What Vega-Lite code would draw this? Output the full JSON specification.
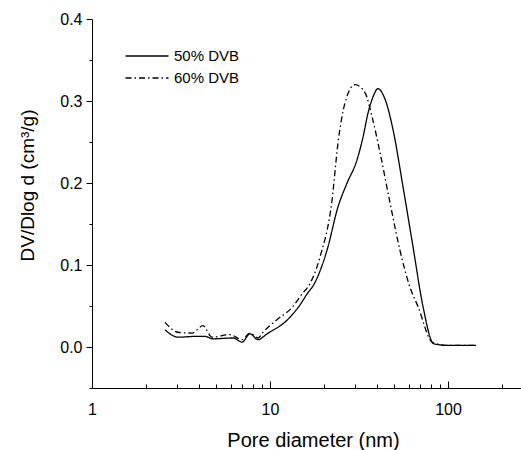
{
  "$schema": "https://vega.github.io/schema/vega-lite/v6.json",
  "width": 429,
  "height": 369,
  "autosize": "none",
  "padding": {"left": 92, "top": 19, "right": 0, "bottom": 62},
  "background": "white",
  "config": {
    "view": {"stroke": null},
    "font": "Liberation Sans",
    "axis": {"domainColor": "black", "tickColor": "black", "labelColor": "black", "titleColor": "black", "grid": false, "titleFontWeight": "normal", "domainWidth": 1, "tickWidth": 1}
  },
  "data": {
    "values": [
      {"d": 2.57, "v": 0.021, "s": "50% DVB"},
      {"d": 3.04, "v": 0.012, "s": "50% DVB"},
      {"d": 3.89, "v": 0.013, "s": "50% DVB"},
      {"d": 4.3, "v": 0.013, "s": "50% DVB"},
      {"d": 4.78, "v": 0.010, "s": "50% DVB"},
      {"d": 6.2, "v": 0.011, "s": "50% DVB"},
      {"d": 6.96, "v": 0.006, "s": "50% DVB"},
      {"d": 7.72, "v": 0.016, "s": "50% DVB"},
      {"d": 8.56, "v": 0.009, "s": "50% DVB"},
      {"d": 9.62, "v": 0.016, "s": "50% DVB"},
      {"d": 12.5, "v": 0.033, "s": "50% DVB"},
      {"d": 14.7, "v": 0.051, "s": "50% DVB"},
      {"d": 16.3, "v": 0.066, "s": "50% DVB"},
      {"d": 17.5, "v": 0.075, "s": "50% DVB"},
      {"d": 20.9, "v": 0.118, "s": "50% DVB"},
      {"d": 24.1, "v": 0.171, "s": "50% DVB"},
      {"d": 27.1, "v": 0.200, "s": "50% DVB"},
      {"d": 30.8, "v": 0.228, "s": "50% DVB"},
      {"d": 33.3, "v": 0.256, "s": "50% DVB"},
      {"d": 35.5, "v": 0.285, "s": "50% DVB"},
      {"d": 37.9, "v": 0.305, "s": "50% DVB"},
      {"d": 40.4, "v": 0.315, "s": "50% DVB"},
      {"d": 44.3, "v": 0.302, "s": "50% DVB"},
      {"d": 49.1, "v": 0.265, "s": "50% DVB"},
      {"d": 55.9, "v": 0.195, "s": "50% DVB"},
      {"d": 63.6, "v": 0.122, "s": "50% DVB"},
      {"d": 72.4, "v": 0.049, "s": "50% DVB"},
      {"d": 83.0, "v": 0.004, "s": "50% DVB"},
      {"d": 100, "v": 0.002, "s": "50% DVB"},
      {"d": 144, "v": 0.002, "s": "50% DVB"},
      {"d": 2.57, "v": 0.030, "s": "60% DVB"},
      {"d": 3.04, "v": 0.018, "s": "60% DVB"},
      {"d": 3.65, "v": 0.017, "s": "60% DVB"},
      {"d": 4.2, "v": 0.026, "s": "60% DVB"},
      {"d": 4.72, "v": 0.012, "s": "60% DVB"},
      {"d": 5.96, "v": 0.015, "s": "60% DVB"},
      {"d": 6.96, "v": 0.009, "s": "60% DVB"},
      {"d": 7.72, "v": 0.017, "s": "60% DVB"},
      {"d": 8.56, "v": 0.011, "s": "60% DVB"},
      {"d": 9.13, "v": 0.018, "s": "60% DVB"},
      {"d": 10.9, "v": 0.033, "s": "60% DVB"},
      {"d": 13.4, "v": 0.049, "s": "60% DVB"},
      {"d": 15.3, "v": 0.066, "s": "60% DVB"},
      {"d": 16.3, "v": 0.073, "s": "60% DVB"},
      {"d": 19.1, "v": 0.110, "s": "60% DVB"},
      {"d": 22.3, "v": 0.179, "s": "60% DVB"},
      {"d": 24.1, "v": 0.249, "s": "60% DVB"},
      {"d": 26.4, "v": 0.298, "s": "60% DVB"},
      {"d": 30.0, "v": 0.320, "s": "60% DVB"},
      {"d": 34.2, "v": 0.310, "s": "60% DVB"},
      {"d": 37.5, "v": 0.280, "s": "60% DVB"},
      {"d": 41.5, "v": 0.237, "s": "60% DVB"},
      {"d": 47.2, "v": 0.176, "s": "60% DVB"},
      {"d": 53.7, "v": 0.118, "s": "60% DVB"},
      {"d": 61.1, "v": 0.073, "s": "60% DVB"},
      {"d": 67.9, "v": 0.049, "s": "60% DVB"},
      {"d": 81.5, "v": 0.006, "s": "60% DVB"},
      {"d": 100, "v": 0.002, "s": "60% DVB"},
      {"d": 144, "v": 0.002, "s": "60% DVB"}
    ]
  },
  "resolve": {"axis": {"x": "independent", "y": "independent"}},
  "layer": [
    {
      "mark": {"type": "line", "color": "black", "strokeWidth": 1.3, "interpolate": "monotone"},
      "encoding": {
        "x": {
          "field": "d", "type": "quantitative",
          "scale": {"type": "log", "domain": [1, 257], "nice": false},
          "axis": {
            "orient": "bottom",
            "values": [1, 10, 100],
            "format": "d",
            "ticks": false,
            "labelFontSize": 16,
            "labelPadding": 13,
            "labelBaseline": "top",
            "labelFlush": false,
            "labelOverlap": false,
            "title": "Pore diameter (nm)",
            "titleFontSize": 20,
            "titleX": 221,
            "titleY": 58,
            "titleBaseline": "alphabetic",
            "titleAnchor": null
          }
        },
        "y": {
          "field": "v", "type": "quantitative",
          "scale": {"domain": [-0.05, 0.4], "nice": false, "zero": false},
          "axis": {
            "orient": "left",
            "values": [-0.05, 0, 0.05, 0.1, 0.15, 0.2, 0.25, 0.3, 0.35, 0.4],
            "labelExpr": "indexof([0, 0.1, 0.2, 0.3, 0.4], datum.value) >= 0 ? format(datum.value, '.1f') : ''",
            "tickSize": {"condition": {"test": "indexof([0, 0.1, 0.2, 0.3, 0.4], datum.value) >= 0", "value": 6}, "value": 3},
            "labelFontSize": 16,
            "labelPadding": 4,
            "labelFlush": false,
            "labelOverlap": false,
            "title": "DV/Dlog d (cm³/g)",
            "titleFontSize": 19,
            "titleX": -59,
            "titleY": 166,
            "titleAngle": -90,
            "titleBaseline": "alphabetic",
            "titleAnchor": null
          }
        },
        "strokeDash": {
          "field": "s", "type": "nominal",
          "scale": {"domain": ["50% DVB", "60% DVB"], "range": [[1, 0], [6, 3, 1.5, 3]]},
          "legend": {
            "orient": "none",
            "legendX": 47,
            "legendY": 29,
            "title": null,
            "padding": 0,
            "symbolType": "M-3,0H3",
            "symbolSize": 205,
            "symbolStrokeColor": "black",
            "symbolStrokeWidth": 1.3,
            "labelFontSize": 15,
            "labelColor": "black",
            "labelOffset": 19,
            "rowPadding": 6
          }
        }
      }
    },
    {
      "mark": {"type": "point", "opacity": 0},
      "encoding": {
        "x": {
          "field": "d", "type": "quantitative",
          "axis": {
            "orient": "bottom",
            "offset": -4,
            "values": [2, 3, 4, 5, 6, 7, 8, 9, 20, 30, 40, 50, 60, 70, 80, 90, 200],
            "tickSize": 4,
            "labels": false,
            "domain": false,
            "title": null
          }
        },
        "y": {"field": "v", "type": "quantitative", "axis": null}
      }
    },
    {
      "mark": {"type": "point", "opacity": 0},
      "encoding": {
        "x": {
          "field": "d", "type": "quantitative",
          "axis": {
            "orient": "bottom",
            "offset": -7,
            "values": [10, 100],
            "tickSize": 7,
            "labels": false,
            "domain": false,
            "title": null
          }
        },
        "y": {"field": "v", "type": "quantitative", "axis": null}
      }
    }
  ]
}
